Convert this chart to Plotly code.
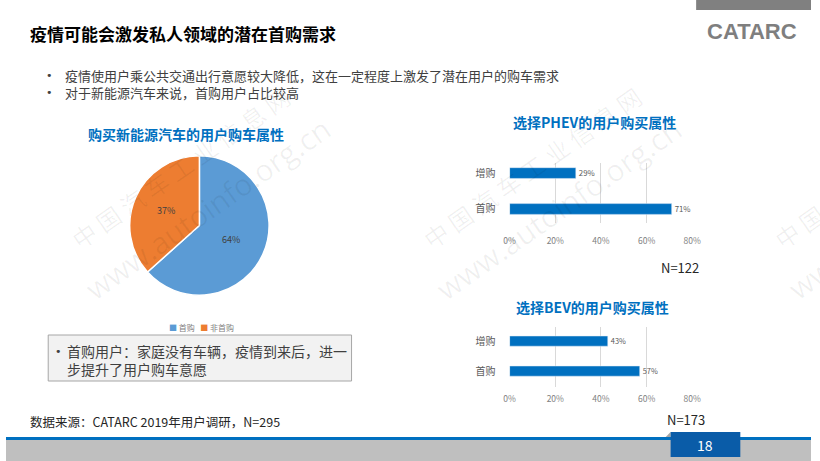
import plotly.graph_objects as go

W, H = 820, 461
def X(px): return px / W
def Y(py): return 1 - py / H

# ---------------- data ----------------
pie_labels = ["首购", "非首购"]
pie_values = [64, 37]
pie_colors = ["#5B9BD5", "#ED7D31"]

bar_categories = ["首购", "增购"]
phev_values = [0.71, 0.29]
bev_values = [0.57, 0.43]
x_ticks = [0, 0.2, 0.4, 0.6, 0.8]
x_ticktext = ["0%", "20%", "40%", "60%", "80%"]

title_text = "疫情可能会激发私人领域的潜在首购需求"
bullets = ["疫情使用户乘公共交通出行意愿较大降低，这在一定程度上激发了潜在用户的购车需求",
           "对于新能源汽车来说，首购用户占比较高"]
pie_title = "购买新能源汽车的用户购车属性"
phev_title = "选择PHEV的用户购买属性"
bev_title = "选择BEV的用户购买属性"
phev_n = "N=122"
bev_n = "N=173"
box_lines = ["首购用户：家庭没有车辆，疫情到来后，进一", "步提升了用户购车意愿"]
source_text = "数据来源：CATARC 2019年用户调研，N=295"
page_no = "18"

CJK = "Noto Sans CJK SC, Microsoft YaHei, sans-serif"
BLUE = "#0070C0"

fig = go.Figure()

# pie
fig.add_trace(go.Pie(
    labels=pie_labels, values=pie_values, sort=False, direction="clockwise", rotation=0,
    marker=dict(colors=pie_colors, line=dict(color="white", width=1.5)),
    text=[f"{v}%" for v in pie_values], textinfo="text", textposition="inside",
    insidetextorientation="horizontal",
    textfont=dict(family=CJK, size=9, color="#404040"),
    domain=dict(x=[X(126), X(268)], y=[Y(297), Y(154)]),
    showlegend=False, hoverinfo="label+percent"))

# bars
fig.add_trace(go.Bar(
    y=bar_categories, x=phev_values, orientation="h", marker_color=BLUE, width=0.3,
    text=[f"{round(v*100)}%" for v in phev_values], textposition="outside",
    textfont=dict(family=CJK, size=8, color="#595959"), cliponaxis=False,
    xaxis="x", yaxis="y", showlegend=False))
fig.add_trace(go.Bar(
    y=bar_categories, x=bev_values, orientation="h", marker_color=BLUE, width=0.34,
    text=[f"{round(v*100)}%" for v in bev_values], textposition="outside",
    textfont=dict(family=CJK, size=8, color="#595959"), cliponaxis=False,
    xaxis="x2", yaxis="y2", showlegend=False))

xcommon = dict(range=[0, 0.8], tickvals=x_ticks, ticktext=x_ticktext, showgrid=True,
               gridcolor="#D9D9D9", gridwidth=1, zeroline=False, showline=False,
               tickfont=dict(family=CJK, size=8.5, color="#7F7F7F"), fixedrange=True)
ycommon = dict(type="category", categoryorder="array", categoryarray=bar_categories,
               showgrid=False, zeroline=False, showline=False,
               tickfont=dict(family=CJK, size=10, color="#595959"), ticklabelstandoff=13)

fig.update_layout(
    xaxis=dict(domain=[X(513), X(699)], anchor="y", ticklabelstandoff=11, **xcommon),
    yaxis=dict(domain=[Y(223), Y(163)], anchor="x", range=[-0.39, 1.28], **ycommon),
    xaxis2=dict(domain=[X(513), X(699)], anchor="y2", ticklabelstandoff=5, **xcommon),
    yaxis2=dict(domain=[Y(387), Y(327)], anchor="x2", range=[-0.53, 1.47], **ycommon),
)

shapes = [
    dict(type="rect", xref="paper", yref="paper", x0=X(703), x1=X(820), y0=Y(10), y1=Y(0),
         fillcolor="#808080", line=dict(width=0), layer="below"),
    dict(type="rect", xref="paper", yref="paper", x0=X(43), x1=X(352), y0=Y(381), y1=Y(335),
         fillcolor="#F2F2F2", line=dict(color="#A6A6A6", width=1), layer="below"),
    dict(type="rect", xref="paper", yref="paper", x0=0, x1=1, y0=Y(461), y1=Y(440),
         fillcolor="#BFBFBF", line=dict(width=0), layer="below"),
    dict(type="rect", xref="paper", yref="paper", x0=0, x1=1, y0=Y(440), y1=Y(437),
         fillcolor="#0070C0", line=dict(width=0), layer="below"),
    dict(type="path", xref="paper", yref="paper",
         path=f"M {X(672)} {Y(437)} L {X(677)} {Y(432)} L {X(677)} {Y(437)} Z",
         fillcolor="#A6A6A6", line=dict(width=0)),
    dict(type="rect", xref="paper", yref="paper", x0=X(677), x1=X(748), y0=Y(457), y1=Y(432),
         fillcolor="#0A5CA8", line=dict(width=0)),
]

ann = []
def T(x, y, text, size, color="#262626", xanchor="left", bold=False, family=CJK, angle=0):
    if bold:
        text = f"<b>{text}</b>"
    ann.append(dict(x=X(x), y=Y(y), xref="paper", yref="paper", text=text, showarrow=False,
                    xanchor=xanchor, yanchor="middle", textangle=angle,
                    font=dict(family=family, size=size, color=color)))

# watermarks
for dx in [0, 358, 716]:
    T(178 + dx, 168, "中 国 汽 车 工 业 信 息 网", 24, "rgba(0,0,0,0.06)", "center", angle=-35)
    T(205 + dx, 208, "www.autoinfo.org.cn", 30, "rgba(0,0,0,0.06)", "center", family="Open Sans, sans-serif", angle=-35)

T(22, 33, title_text, 17, "#000000", bold=True)
T(760, 32, "CATARC", 22, "#7F7F7F", "center", bold=True, family="Liberation Sans, Arial, sans-serif")
for i, b in enumerate(bullets):
    T(39, 76 + 17 * i, "•", 11, "#404040", family="DejaVu Sans")
    T(58, 76 + 17 * i, b, 13, "#404040")
T(183, 134, pie_title, 14, BLUE, "center", bold=True)
T(599, 122, phev_title, 14, BLUE, "center", bold=True)
T(597, 307, bev_title, 14, BLUE, "center", bold=True)
T(708, 267, phev_n, 13, "#262626", "right")
T(714, 419, bev_n, 13, "#262626", "right")
T(199, 327, f"<span style='color:{pie_colors[0]}'>■</span> {pie_labels[0]}   "
            f"<span style='color:{pie_colors[1]}'>■</span> {pie_labels[1]}", 8, "#7F7F7F", "center")
T(48, 351, "•", 11, "#404040", family="DejaVu Sans")
T(60, 351, box_lines[0], 14, "#404040")
T(60, 369, box_lines[1], 14, "#404040")
T(22, 421, source_text, 12.5, "#262626")
T(712, 445, page_no, 14, "#FFFFFF", "center")

fig.update_layout(width=W, height=H, margin=dict(l=0, r=0, t=0, b=0),
                  paper_bgcolor="white", plot_bgcolor="rgba(0,0,0,0)",
                  shapes=shapes, annotations=ann, bargap=0.5)

fig.write_html("out.html", config={"displayModeBar": False},
               post_script="document.body.style.margin='0';document.body.style.overflow='hidden';")
